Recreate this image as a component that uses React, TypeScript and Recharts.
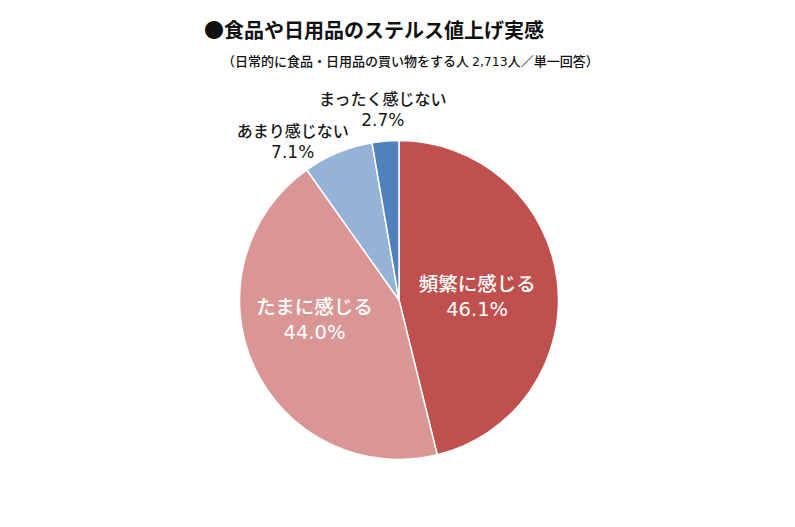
import React from 'react';
import { PieChart, Pie, Cell } from 'recharts';

const categories = ['頻繁に感じる', 'たまに感じる', 'あまり感じない', 'まったく感じない'];
const shares = [46.1, 44.0, 7.1, 2.7];
const colors = ['#C0504D', '#D99694', '#95B3D7', '#4F81BD'];

const FONT = '"Noto Sans CJK JP", "Noto Sans", sans-serif';
const NUM_FONT = '"DejaVu Sans", "Noto Sans CJK JP", sans-serif';

// label placement: radius as a share of the outer radius, then a small nudge
const labelRadius = [0.5, 0.5, 1.2, 1.2];
const labelNudge = [
  [-1, 6],
  [-12, -14],
  [-33, 18],
  [0, 0],
];

const data = categories.map((name, i) => ({ name, value: shares[i] }));

const RADIAN = Math.PI / 180;

const renderLabel = (props: any) => {
  const { cx, cy, midAngle, outerRadius, index } = props;
  const r = outerRadius * labelRadius[index];
  const x = cx + r * Math.cos(-midAngle * RADIAN) + labelNudge[index][0];
  const y = cy + r * Math.sin(-midAngle * RADIAN) + labelNudge[index][1];
  const inside = labelRadius[index] < 1;
  const fill = inside ? '#ffffff' : '#1a1a1a';
  const size = inside ? 19.5 : 16;
  const gap = inside ? 13.5 : 11;
  return (
    <g>
      <text
        x={x}
        y={y - gap}
        textAnchor="middle"
        dominantBaseline="central"
        fill={fill}
        fontSize={size}
        fontWeight={500}
        fontFamily={FONT}
      >
        {categories[index]}
      </text>
      <text
        x={x}
        y={y + gap}
        textAnchor="middle"
        dominantBaseline="central"
        fill={fill}
        fontSize={inside ? size : 17}
        fontFamily={NUM_FONT}
      >
        {shares[index].toFixed(1)}%
      </text>
    </g>
  );
};

export default function App() {
  return (
    <div
      style={{
        position: 'absolute',
        left: 0,
        top: 0,
        width: 795,
        height: 527,
        background: '#ffffff',
        fontFamily: FONT,
      }}
    >
      <div
        style={{
          position: 'absolute',
          left: 204,
          top: 16,
          fontSize: 20,
          fontWeight: 'bold',
          color: '#111',
          lineHeight: '28px',
          whiteSpace: 'nowrap',
        }}
      >
        ●食品や日用品のステルス値上げ実感
      </div>
      <div
        style={{
          position: 'absolute',
          left: 222,
          top: 51,
          fontSize: 13,
          fontWeight: 500,
          color: '#111',
          lineHeight: '20px',
          whiteSpace: 'nowrap',
        }}
      >
        （日常的に食品・日用品の買い物をする人 <span style={{ fontFamily: NUM_FONT, fontSize: 12.5 }}>2,713</span>人／単一回答）
      </div>
      <div style={{ position: 'absolute', left: 0, top: 0 }}>
        <PieChart width={795} height={527} margin={{ top: 0, right: 0, bottom: 0, left: 0 }}>
          <Pie
            data={data}
            dataKey="value"
            nameKey="name"
            cx={399}
            cy={300}
            outerRadius={159.5}
            startAngle={90}
            endAngle={-270}
            stroke="#ffffff"
            strokeWidth={1.5}
            label={renderLabel}
            labelLine={false}
            isAnimationActive={false}
          >
            {data.map((d, i) => (
              <Cell key={d.name} fill={colors[i]} />
            ))}
          </Pie>
        </PieChart>
      </div>
    </div>
  );
}
